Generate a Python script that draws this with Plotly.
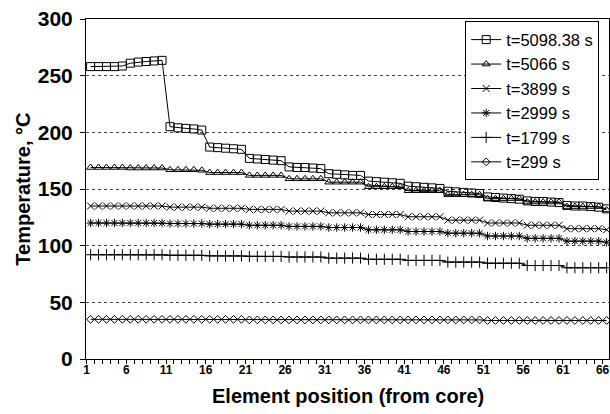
import plotly.graph_objects as go

# ---------------- data ----------------
element = list(range(1, 67))
tick_vals = [1, 6, 11, 16, 21, 26, 31, 36, 41, 46, 51, 56, 61, 66]
tick_text = [str(v) for v in tick_vals]

t_5098 = [258, 258, 258, 258, 258.5,
          261, 262, 262.5, 263, 263.5,
          205, 204, 203.5, 203, 202,
          187, 186.5, 186, 185.5, 185,
          177, 176.5, 176, 175.5, 175,
          169.5, 169, 169, 168.5, 168,
          163.5, 163, 162.5, 162, 162,
          157, 156.5, 156, 155.5, 155,
          152.5, 152, 151.5, 151, 150.5,
          148, 147.5, 147, 146.5, 146,
          143, 142.5, 142, 141.5, 141,
          139.5, 139, 139, 138.5, 138,
          135.5, 135, 135, 134.5, 134, 132.5]

t_5066 = [169, 169, 169, 169, 169,
          168.5, 168.5, 168.5, 168.5, 168.5,
          167, 167, 167, 167, 166.5,
          164.5, 164.5, 164.5, 164.5, 164.5,
          162, 162, 162, 162, 162,
          159, 159, 159, 159, 159,
          156, 156, 156, 156, 156,
          152, 152, 152, 152, 152,
          148.5, 148.5, 148.5, 148.5, 148.5,
          145, 145, 145, 145, 145,
          141.5, 141.5, 141.5, 141.5, 141.5,
          138.5, 138.5, 138.5, 138.5, 138.5,
          134.5, 134.5, 134.5, 134.5, 134.5, 131.5]

t_3899 = [135, 135, 135, 135, 135, 135, 135, 135, 135, 135,
          134, 134, 134, 134, 134,
          133, 133, 133, 133, 133,
          132, 132, 132, 132, 132,
          130.5, 130.5, 130.5, 130.5, 130.5,
          129, 129, 129, 129, 129,
          127.5, 127.5, 127.5, 127.5, 127.5,
          125.5, 125.5, 125.5, 125.5, 125.5,
          122.5, 122.5, 122.5, 122.5, 122.5,
          120, 120, 120, 120, 120,
          118, 118, 118, 118, 118,
          115, 115, 115, 115, 115, 114]

t_2999 = [120, 120, 120, 120, 120, 120, 120, 120, 120, 120,
          119.5, 119.5, 119.5, 119.5, 119.5,
          119, 119, 119, 119, 119,
          118, 118, 118, 118, 118,
          117, 117, 117, 117, 117,
          116, 116, 116, 116, 116,
          114, 114, 114, 114, 114,
          112.5, 112.5, 112.5, 112.5, 112.5,
          111, 111, 111, 111, 111,
          108.5, 108.5, 108.5, 108.5, 108.5,
          106.5, 106.5, 106.5, 106.5, 106.5,
          104, 104, 104, 104, 104, 103]

t_1799 = [92, 92, 92, 92, 92, 92, 92, 92, 92, 92,
          91.5, 91.5, 91.5, 91.5, 91.5,
          91, 91, 91, 91, 91,
          90.5, 90.5, 90.5, 90.5, 90.5,
          90, 90, 90, 90, 90,
          89, 89, 89, 89, 89,
          88, 88, 88, 88, 88,
          87, 87, 87, 87, 87,
          85.5, 85.5, 85.5, 85.5, 85.5,
          84.5, 84.5, 84.5, 84.5, 84.5,
          82.5, 82.5, 82.5, 82.5, 82.5,
          80.5, 80.5, 80.5, 80.5, 80.5, 80.5]

t_299 = [35, 35, 35, 35, 35, 35, 35, 35, 35, 35,
         35, 35, 35, 35, 35, 35, 35, 35, 35, 35,
         34.5, 34.5, 34.5, 34.5, 34.5, 34.5, 34.5, 34.5, 34.5, 34.5,
         34.5, 34.5, 34.5, 34.5, 34.5, 34.5, 34.5, 34.5, 34.5, 34.5,
         34.5, 34.5, 34.5, 34.5, 34.5, 34.5, 34.5, 34.5, 34.5, 34.5,
         34, 34, 34, 34, 34, 34, 34, 34, 34, 34,
         34, 34, 34, 34, 34, 34]

series_names = ["t=5098.38 s", "t=5066 s", "t=3899 s", "t=2999 s", "t=1799 s", "t=299 s"]
series_values = [t_5098, t_5066, t_3899, t_2999, t_1799, t_299]
series_symbols = ["square-open", "triangle-up-open", "x-thin-open",
                  "asterisk-open", "cross-thin-open", "diamond-open"]
series_sizes = [8, 7, 7, 7, 8, 6]

x_title = "Element position (from core)"
y_title = "Temperature, °C"

# ---------------- figure ----------------
FONT = "Liberation Sans, Arial, sans-serif"
fig = go.Figure()
for name, vals, sym, sz in zip(series_names, series_values, series_symbols, series_sizes):
    fig.add_trace(go.Scatter(
        x=element, y=vals, name=name, mode="lines+markers",
        line=dict(color="black", width=1),
        marker=dict(symbol=sym, size=sz, color="black",
                    line=dict(color="black", width=1)),
    ))

fig.update_layout(
    width=610, height=414,
    margin=dict(l=86, r=1, t=19, b=55),
    paper_bgcolor="white", plot_bgcolor="white",
    font=dict(family=FONT, color="black"),
    showlegend=True,
    legend=dict(
        x=0.725, xanchor="left", y=0.993, yanchor="top",
        bgcolor="white", bordercolor="black", borderwidth=1,
        font=dict(size=16.5, family=FONT, color="black"),
        tracegroupgap=0, itemwidth=30,
    ),
    annotations=[
        dict(text=y_title, xref="paper", yref="paper", x=-0.121, y=0.5,
             xanchor="center", yanchor="middle", textangle=-90, showarrow=False,
             font=dict(size=20, family=FONT, weight="bold", color="black")),
        dict(text=x_title, xref="paper", yref="paper", x=0.5, y=-0.108,
             xanchor="center", yanchor="middle", showarrow=False,
             font=dict(size=20, family=FONT, weight="bold", color="black")),
    ],
)

fig.update_xaxes(
    automargin=False,
    range=[0.42, 66.3],
    tickmode="array", tickvals=tick_vals, ticktext=tick_text,
    tickfont=dict(size=12, family=FONT, weight="bold"),
    ticklabeloverflow="allow", ticklabelshift=-4,
    ticks="", showgrid=False, zeroline=False,
    showline=True, linecolor="black", linewidth=1, mirror=True,
    minor=dict(ticks="outside", tick0=0.5, dtick=1, ticklen=4,
               tickcolor="black", showgrid=False),
)

fig.update_yaxes(
    automargin=False,
    range=[0, 300], tickmode="array",
    tickvals=[0, 50, 100, 150, 200, 250, 300],
    tickfont=dict(size=21, family=FONT, weight="bold"),
    ticks="outside", ticklen=5, tickcolor="black", ticklabelstandoff=3,
    showgrid=True, gridcolor="#444444", gridwidth=1, griddash="3px,3px",
    zeroline=False,
    showline=True, linecolor="black", linewidth=1, mirror=True,
)

fig.write_html("out.html",
               config={"displayModeBar": False},
               post_script="document.body.style.margin='0';document.body.style.overflow='hidden';")
